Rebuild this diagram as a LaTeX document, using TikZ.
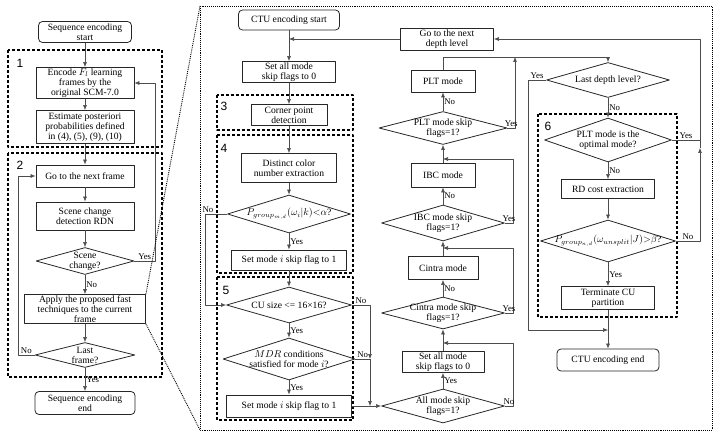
\documentclass[tikz,border=0pt]{standalone}
\usepackage{fontspec}
\setmainfont{Liberation Serif}
\newfontfamily\numfont{Liberation Sans}
\usetikzlibrary{shapes.geometric,arrows.meta}

\begin{document}
\begin{tikzpicture}[x=1pt,y=-1pt,font=\fontsize{9.6}{10}\selectfont, line join=round, >={Latex[length=5pt,width=4pt]}]
	\tikzset{blk/.style={draw=black!85,line width=.8pt,align=center,inner sep=1pt},
		endbox/.style={blk,rounded corners=4pt},
		dec/.style={draw=black!85,line width=.8pt,shape=diamond,shape aspect=4,inner sep=-8pt,align=center},
		grp/.style={draw,line width=1.1pt,dash pattern=on 3pt off 2pt},
		lnk/.style={->,draw=black!70,line width=.6pt},
		yn/.style={font=\fontsize{8.8}{9}\selectfont,inner sep=1pt},
		num/.style={font=\numfont\fontsize{12}{12}\selectfont}}
	\useasboundingbox (0,0) rectangle (720,438);
	% (a) sequence level
	\draw[grp] (8,50) rectangle (162,147);
	\draw[grp] (8,153) rectangle (162,377);
	\node[num] at (20,63) {1};
	\node[num] at (20,165) {2};
	\node[endbox,minimum width=93,minimum height=21] (sstart) at (85,32) {Sequence encoding\\start};
	\node[blk,minimum width=98,minimum height=31] (learn) at (85,83) {Encode $F_l$ learning\\frames by the\\original SCM-7.0};
	\node[blk,minimum width=98,minimum height=33] (post) at (85,127) {Estimate posteriori\\probabilities defined\\in (4), (5), (9), (10)};
	\node[blk,minimum width=98,minimum height=22] (nextf) at (85,176) {Go to the next frame};
	\node[blk,minimum width=98,minimum height=28] (scd) at (85,216) {Scene change\\detection RDN};
	\node[dec,minimum width=98,minimum height=27] (scq) at (85,261) {Scene\\change?};
	\node[blk,minimum width=121,minimum height=28] (apply) at (85,309) {Apply the proposed fast\\techniques to the current\\frame};
	\node[dec,minimum width=100,minimum height=25] (lastf) at (85,355) {Last\\frame?};
	\node[endbox,minimum width=100,minimum height=23] (send) at (85,403) {Sequence encoding\\end};
	\coordinate (lfx) at (18,0);
	\coordinate (scx) at (155,0);
	\draw[lnk] (sstart) -- (learn);
	\draw[lnk] (learn) -- (post);
	\draw[lnk] (post) -- (nextf);
	\draw[lnk] (nextf) -- (scd);
	\draw[lnk] (scd) -- (scq);
	\draw[lnk] (scq) -- node[yn,right]{No} (apply);
	\draw[lnk] (apply) -- (lastf);
	\draw[lnk] (lastf) -- node[yn,right]{Yes} (send);
	\draw[lnk] (lastf.west) -- node[yn,above]{No} (lastf.west -| lfx) |- (nextf.west);
	\draw[lnk] (scq.east) -- node[yn,above]{Yes} (scq.east -| scx) |- (learn.east);
	% (b) CTU level
	\coordinate (bnw) at (200,6);
	\coordinate (bse) at (712,430);
	\draw[densely dotted,line width=.9pt] (bnw) rectangle (bse);
	\draw[densely dotted,line width=.9pt] (apply.north east) -- (bnw) (apply.south east) -- (bnw |- bse);
	\draw[grp] (217,95) rectangle (353,130);
	\draw[grp] (217,135) rectangle (353,273);
	\draw[grp] (217,277) rectangle (353,420);
	\draw[grp] (538,114) rectangle (677,317);
	\node[num] at (224,106) {3};
	\node[num] at (224,148) {4};
	\node[num] at (226,290) {5};
	\node[num] at (548,126) {6};
	\node[endbox,minimum width=101,minimum height=20] (cstart) at (289,20) {CTU encoding start};
	\node[blk,minimum width=93,minimum height=21] (zero1) at (289,72) {Set all mode\\skip flags to 0};
	\node[blk,minimum width=76,minimum height=21] (corner) at (289,115) {Corner point\\detection};
	\node[blk,minimum width=95,minimum height=29] (dcn) at (289,168) {Distinct color\\number extraction};
	\node[dec,minimum width=123,minimum height=38] (pgm) at (289,214) {$P_{group_{m,d}}(\omega_i|k){<}\alpha$?};
	\node[blk,minimum width=115,minimum height=20] (skip4) at (289,260) {Set mode $i$ skip flag to 1};
	\node[dec,minimum width=125,minimum height=36] (cusz) at (289,305) {CU size <= 16×16?};
	\node[dec,minimum width=132,minimum height=42] (mdr) at (289,359) {$MDR$ conditions\\satisfied for mode $i$?};
	\node[blk,minimum width=125,minimum height=22] (skip5) at (289,406) {Set mode $i$ skip flag to 1};
	\node[blk,minimum width=93,minimum height=22] (nextd) at (447,39) {Go to the next\\depth level};
	\node[blk,minimum width=64,minimum height=22] (pltm) at (443,81) {PLT mode};
	\node[dec,minimum width=128,minimum height=33] (pltq) at (443,128) {PLT mode skip\\flags=1?};
	\node[blk,minimum width=64,minimum height=24] (ibcm) at (443,175) {IBC mode};
	\node[dec,minimum width=123,minimum height=36] (ibcq) at (443,223) {IBC mode skip\\flags=1?};
	\node[blk,minimum width=70,minimum height=23] (cinm) at (443,268) {Cintra mode};
	\node[dec,minimum width=123,minimum height=32] (cinq) at (443,313) {Cintra mode skip\\flags=1?};
	\node[blk,minimum width=82,minimum height=21] (zero2) at (443,362) {Set all mode\\skip flags to 0};
	\node[dec,minimum width=123,minimum height=34] (amq) at (443,406) {All mode skip\\flags=1?};
	\node[dec,minimum width=123,minimum height=35] (lastq) at (608,80) {Last depth level?};
	\node[dec,minimum width=127,minimum height=44] (optq) at (608,140) {PLT mode is the\\optimal mode?};
	\node[blk,minimum width=93,minimum height=19] (rdc) at (608,189) {RD cost extraction};
	\node[dec,minimum width=135,minimum height=42] (pgn) at (608,241) {$P_{group_{n,d}}(\omega_{unsplit}|J){>}\beta$?};
	\node[blk,minimum width=93,minimum height=23] (stopcu) at (608,298) {Terminate CU\\partition};
	\node[endbox,minimum width=102,minimum height=22] (cend) at (608,360) {CTU encoding end};
	% junctions and turning points
	\coordinate (dj) at (289,39);
	\coordinate (pnx) at (205,0);
	\coordinate (nx) at (370,0);
	\coordinate (rx) at (513,0);
	\coordinate (ry) at (515,0);
	\coordinate (topy) at (0,57);
	\coordinate (j1) at (443,343);
	\coordinate (j2) at (443,248);
	\coordinate (j3) at (443,159);
	\coordinate (lx) at (528,0);
	\coordinate (ej) at (608,330);
	\coordinate (fx) at (700,0);
	\coordinate (fj) at (700,148);
	\draw[lnk] (cstart) -- (zero1);
	\draw[lnk] (nextd.west) -- (dj);
	\draw[lnk] (zero1) -- (corner);
	\draw[lnk] (corner) -- (dcn);
	\draw[lnk] (dcn) -- (pgm);
	\draw[lnk] (pgm) -- node[yn,right]{Yes} (skip4);
	\draw[lnk] (skip4) -- (cusz);
	\draw[lnk] (cusz) -- node[yn,right]{Yes} (mdr);
	\draw[lnk] (mdr) -- node[yn,right]{Yes} (skip5);
	\draw[lnk] (pgm.west) -- (pgm.west -| pnx) node[yn,above,xshift=3pt]{No} |- (cusz.west);
	\draw[lnk] (cusz.east) -- node[yn,above]{No} (cusz.east -| nx) -- (mdr.east -| nx);
	\draw[draw=black!70,line width=.6pt] (mdr.east) -- node[yn,above]{No} (mdr.east -| nx);
	\draw[lnk] (mdr.east -| nx) -- (skip5.east -| nx);
	\draw[lnk] (skip5.east) -- (amq.west);
	\draw[lnk] (amq) -- node[yn,right]{Yes} (zero2);
	\draw[lnk] (zero2) -- (cinq);
	\draw[lnk] (cinq) -- node[yn,right]{No} (cinm);
	\draw[lnk] (cinm) -- (ibcq);
	\draw[lnk] (ibcq) -- node[yn,right]{No} (ibcm);
	\draw[lnk] (ibcm) -- (pltq);
	\draw[lnk] (pltq) -- node[yn,right]{No} (pltm);
	\draw[lnk] (amq.east) -- node[yn,above]{No} (amq.east -| rx) |- (j1);
	\draw[lnk] (cinq.east) -- node[yn,above]{Yes} (cinq.east -| rx) |- (j2);
	\draw[lnk] (ibcq.east) -- node[yn,above]{Yes} (ibcq.east -| rx) |- (j3);
	\draw[lnk] (pltm.north) |- (lastq.north |- topy) -- (lastq.north);
	\draw[lnk] (pltq.east) -- node[yn,above]{Yes} (pltq.east -| ry) -- (ry |- topy);
	\draw[lnk] (lastq) -- node[yn,right]{No} (optq);
	\draw[lnk] (optq) -- node[yn,right]{No} (rdc);
	\draw[lnk] (rdc) -- (pgn);
	\draw[lnk] (pgn) -- node[yn,right]{Yes} (stopcu);
	\draw[lnk] (stopcu) -- (cend);
	\draw[lnk] (lastq.west) -- node[yn,above]{Yes} (lastq.west -| lx) |- (ej);
	\draw[lnk] (pgn.east) -- node[yn,above]{No} (pgn.east -| fx) -- (fj);
	\draw[draw=black!70,line width=.6pt] (optq.east) -- node[yn,above]{Yes} (optq.east -| fx);
	\draw[lnk] (fj) -- (fx |- nextd.east) -- (nextd.east);
\end{tikzpicture}
\end{document}
